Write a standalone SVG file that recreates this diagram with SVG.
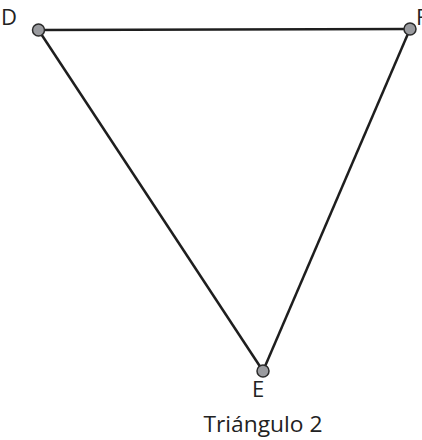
<svg xmlns="http://www.w3.org/2000/svg" width="422" height="440" viewBox="0 0 422 440">
<style>
.e{stroke:#1e1e1e;stroke-width:2.5;fill:none}
.p{fill:#9a9b9f;stroke:#2a2a2a;stroke-width:1.5}
.t{font-family:"Open Sans","Liberation Sans",sans-serif;font-size:22px;fill:#222}
</style>
<rect width="422" height="440" fill="#fff"/>
<g id="connectors">
<line class="e" x1="38.5" y1="30" x2="410" y2="29"/>
<line class="e" x1="38.5" y1="30" x2="263" y2="371"/>
<line class="e" x1="410" y1="29" x2="263" y2="371"/>
</g>
<g id="D"><circle class="p" cx="38.5" cy="30" r="6"/><text class="t" x="1" y="25">D</text></g>
<g id="F"><circle class="p" cx="410" cy="29" r="6"/><text class="t" x="416" y="25">F</text></g>
<g id="E"><circle class="p" cx="263" cy="371" r="6"/><text class="t" x="252" y="397">E</text></g>
<text class="t" x="263" y="432" text-anchor="middle" textLength="119" lengthAdjust="spacingAndGlyphs">Triángulo 2</text>
</svg>
